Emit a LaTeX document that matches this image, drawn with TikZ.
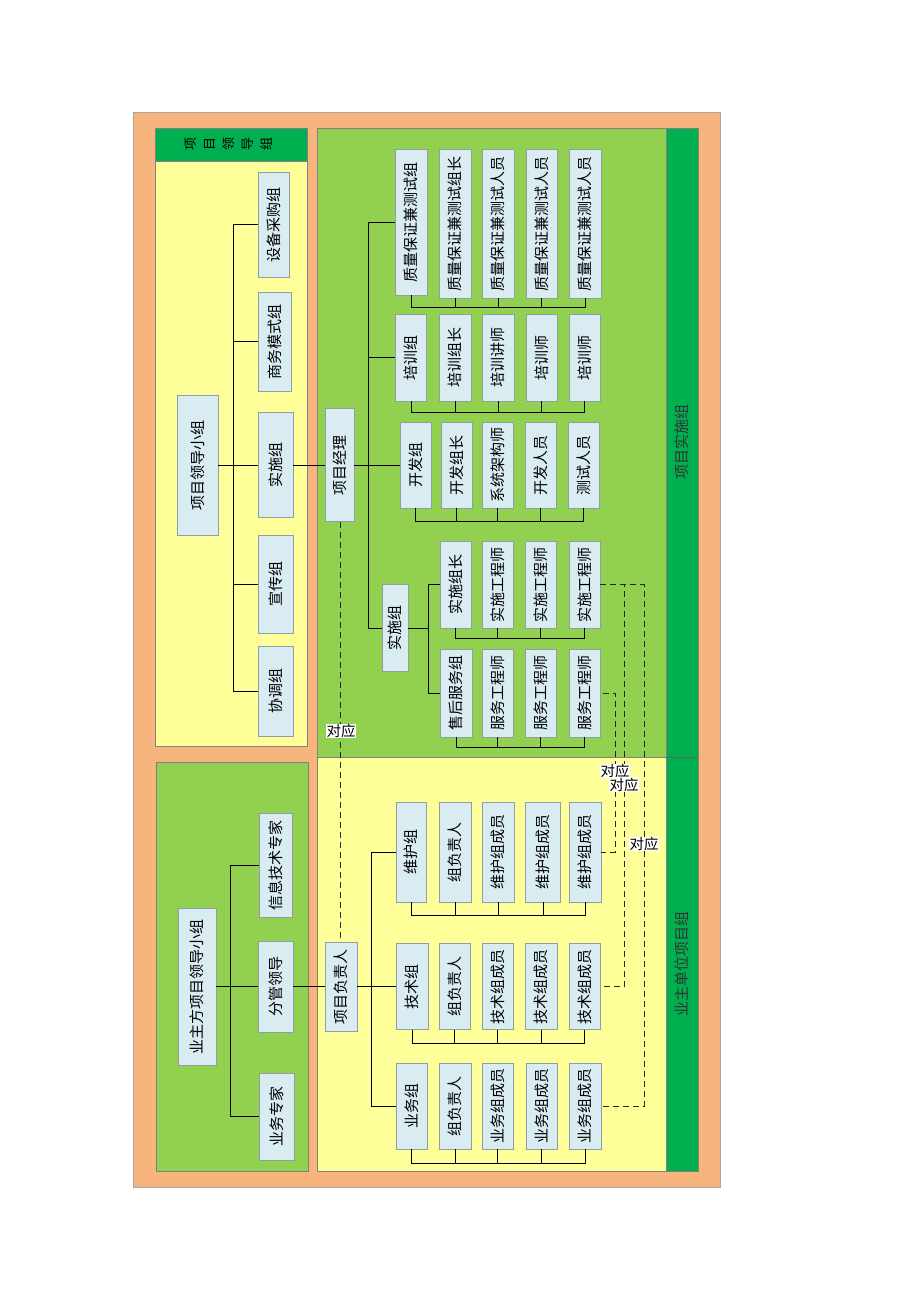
\documentclass[tikz,border=0pt]{standalone}
\usepackage{fontspec}
\newfontfamily\cjk{Noto Sans CJK SC}
\definecolor{orangebg}{HTML}{F7B47C}
\definecolor{greenpanel}{HTML}{92D050}
\definecolor{yellowpanel}{HTML}{FFFF99}
\definecolor{darkgreen}{HTML}{00B050}
\definecolor{boxfill}{HTML}{D8ECF1}
\definecolor{boxline}{HTML}{8E9EA4}
\begin{document}
\begin{tikzpicture}[x=1pt,y=-1pt,
  ob/.style={draw=boxline, line width=0.8pt, fill=boxfill, inner sep=0pt,
    font=\cjk\fontsize{15}{16}\selectfont, text=black},
  conn/.style={draw=black, line width=1pt},
  dconn/.style={draw=black!85, line width=1pt, dash pattern=on 6pt off 4pt},
  lab/.style={fill=white, inner sep=0.6pt, font=\cjk\fontsize{14.5}{15}\selectfont},
  striplab/.style={font=\cjk\fontsize{15}{16}\selectfont, text=black!80},
  panel/.style={draw=black!50, line width=0.6pt}
]
\useasboundingbox (0,0) rectangle (920,1302);
\fill[white] (0,0) rectangle (920,1302);

% backgrounds
\filldraw[fill=orangebg, draw=black!35, line width=0.6pt] (133,112) rectangle (720,1187);
\filldraw[panel, fill=yellowpanel] (155,128) rectangle (307,746);
\filldraw[panel, fill=darkgreen] (155,128) rectangle (307,161);
\filldraw[panel, fill=greenpanel] (156,762) rectangle (308,1171);
\filldraw[panel, fill=greenpanel] (317,128) rectangle (666,757);
\filldraw[panel, fill=yellowpanel] (317,757) rectangle (666,1171);
\filldraw[panel, fill=darkgreen] (666,128) rectangle (698,1171);
\draw[panel, black!60] (666,757) -- (698,757);

\node[font=\cjk\fontsize{13}{19}\selectfont] (hdr) at (229.5,144)
  {\rotatebox{90}{\begin{tabular}{@{}c@{}}项\\目\\领\\导\\组\end{tabular}}};
\node[striplab] (s1) at (682,442) {\rotatebox{90}{项目实施组}};
\node[striplab] (s2) at (682,964) {\rotatebox{90}{业主单位项目组}};

% ---------- top-left panel ----------
\node[ob, minimum width=41pt, minimum height=140pt] (lead) at (197.5,465) {\rotatebox{90}{项目领导小组}};
\node[ob, minimum width=35pt, minimum height=90pt] (xt) at (275.5,691) {\rotatebox{90}{协调组}};
\node[ob, minimum width=35pt, minimum height=98pt] (xc) at (275.5,584) {\rotatebox{90}{宣传组}};
\node[ob, minimum width=35pt, minimum height=105pt] (ss) at (275.5,465) {\rotatebox{90}{实施组}};
\node[ob, minimum width=33pt, minimum height=99pt] (sw) at (274.5,341.5) {\rotatebox{90}{商务模式组}};
\node[ob, minimum width=31pt, minimum height=105pt] (sb) at (273.5,224.5) {\rotatebox{90}{设备采购组}};
\coordinate (t1) at (233,0);

% ---------- project manager ----------
\node[ob, minimum width=29pt, minimum height=113pt] (pm) at (339.5,465) {\rotatebox{90}{项目经理}};
\coordinate (t2) at (368,0);

% QA row
\node[ob, minimum width=32pt, minimum height=146pt] (q1) at (411,222) {\rotatebox{90}{质量保证兼测试组}};
\node[ob, minimum width=32pt, minimum height=149pt] (q2) at (455,223.5) {\rotatebox{90}{质量保证兼测试组长}};
\node[ob, minimum width=32pt, minimum height=149pt] (q3) at (498,223.5) {\rotatebox{90}{质量保证兼测试人员}};
\node[ob, minimum width=31pt, minimum height=149pt] (q4) at (541.5,223.5) {\rotatebox{90}{质量保证兼测试人员}};
\node[ob, minimum width=32pt, minimum height=149pt] (q5) at (585,223.5) {\rotatebox{90}{质量保证兼测试人员}};
\coordinate (qbus) at (0,307);

% training row
\node[ob, minimum width=31pt, minimum height=87pt] (p1) at (411,357.5) {\rotatebox{90}{培训组}};
\node[ob, minimum width=32pt, minimum height=87pt] (p2) at (455,357.5) {\rotatebox{90}{培训组长}};
\node[ob, minimum width=32pt, minimum height=87pt] (p3) at (498,357.5) {\rotatebox{90}{培训讲师}};
\node[ob, minimum width=31pt, minimum height=87pt] (p4) at (541.5,357.5) {\rotatebox{90}{培训师}};
\node[ob, minimum width=31pt, minimum height=87pt] (p5) at (584.5,357.5) {\rotatebox{90}{培训师}};
\coordinate (pbus) at (0,412);

% development row
\node[ob, minimum width=31pt, minimum height=86pt] (k1) at (415.5,465) {\rotatebox{90}{开发组}};
\node[ob, minimum width=31pt, minimum height=86pt] (k2) at (456.5,465) {\rotatebox{90}{开发组长}};
\node[ob, minimum width=31pt, minimum height=86pt] (k3) at (497.5,465) {\rotatebox{90}{系统架构师}};
\node[ob, minimum width=31pt, minimum height=86pt] (k4) at (540.5,465) {\rotatebox{90}{开发人员}};
\node[ob, minimum width=31pt, minimum height=86pt] (k5) at (583.5,465) {\rotatebox{90}{测试人员}};
\coordinate (kbus) at (0,521);

% implementation group
\node[ob, minimum width=26pt, minimum height=87pt] (sr) at (395,628) {\rotatebox{90}{实施组}};
\coordinate (t3) at (428,0);
\node[ob, minimum width=31pt, minimum height=87pt] (z1) at (455.5,584.5) {\rotatebox{90}{实施组长}};
\node[ob, minimum width=31pt, minimum height=87pt] (z2) at (497.5,584.5) {\rotatebox{90}{实施工程师}};
\node[ob, minimum width=31pt, minimum height=87pt] (z3) at (540.5,584.5) {\rotatebox{90}{实施工程师}};
\node[ob, minimum width=31pt, minimum height=87pt] (z4) at (584.5,584.5) {\rotatebox{90}{实施工程师}};
\coordinate (zbus) at (0,638);
\node[ob, minimum width=32pt, minimum height=88pt] (h1) at (456,693) {\rotatebox{90}{售后服务组}};
\node[ob, minimum width=31pt, minimum height=88pt] (h2) at (497.5,693) {\rotatebox{90}{服务工程师}};
\node[ob, minimum width=31pt, minimum height=88pt] (h3) at (540.5,693) {\rotatebox{90}{服务工程师}};
\node[ob, minimum width=31pt, minimum height=88pt] (h4) at (584.5,693) {\rotatebox{90}{服务工程师}};
\coordinate (hbus) at (0,747);

% ---------- bottom-left panel ----------
\node[ob, minimum width=38pt, minimum height=157pt] (ol) at (197,986.5) {\rotatebox{90}{业主方项目领导小组}};
\node[ob, minimum width=33pt, minimum height=104pt] (xx) at (275.5,865) {\rotatebox{90}{信息技术专家}};
\node[ob, minimum width=35pt, minimum height=91pt] (fg) at (275.5,986.5) {\rotatebox{90}{分管领导}};
\node[ob, minimum width=35pt, minimum height=87pt] (yj) at (276.5,1116.5) {\rotatebox{90}{业务专家}};
\coordinate (t4) at (230,0);

% ---------- bottom-right panel ----------
\node[ob, minimum width=32pt, minimum height=89pt] (pr) at (341,986.5) {\rotatebox{90}{项目负责人}};
\coordinate (t5) at (371,0);

\node[ob, minimum width=30pt, minimum height=100pt] (w1) at (411,852) {\rotatebox{90}{维护组}};
\node[ob, minimum width=32pt, minimum height=100pt] (w2) at (455,852) {\rotatebox{90}{组负责人}};
\node[ob, minimum width=32pt, minimum height=100pt] (w3) at (498,852) {\rotatebox{90}{维护组成员}};
\node[ob, minimum width=35pt, minimum height=100pt] (w4) at (543,852) {\rotatebox{90}{维护组成员}};
\node[ob, minimum width=32pt, minimum height=100pt] (w5) at (585,852) {\rotatebox{90}{维护组成员}};
\coordinate (wbus) at (0,915);

\node[ob, minimum width=32pt, minimum height=86pt] (j1) at (412,986.5) {\rotatebox{90}{技术组}};
\node[ob, minimum width=31pt, minimum height=86pt] (j2) at (454.5,986.5) {\rotatebox{90}{组负责人}};
\node[ob, minimum width=31pt, minimum height=86pt] (j3) at (497.5,986.5) {\rotatebox{90}{技术组成员}};
\node[ob, minimum width=32pt, minimum height=86pt] (j4) at (541,986.5) {\rotatebox{90}{技术组成员}};
\node[ob, minimum width=31pt, minimum height=86pt] (j5) at (584.5,986.5) {\rotatebox{90}{技术组成员}};
\coordinate (jbus) at (0,1043);

\node[ob, minimum width=31pt, minimum height=86pt] (y1) at (411.5,1106) {\rotatebox{90}{业务组}};
\node[ob, minimum width=32pt, minimum height=86pt] (y2) at (455,1106) {\rotatebox{90}{组负责人}};
\node[ob, minimum width=31pt, minimum height=86pt] (y3) at (497.5,1106) {\rotatebox{90}{业务组成员}};
\node[ob, minimum width=31pt, minimum height=86pt] (y4) at (541.5,1106) {\rotatebox{90}{业务组成员}};
\node[ob, minimum width=32pt, minimum height=86pt] (y5) at (585,1106) {\rotatebox{90}{业务组成员}};
\coordinate (ybus) at (0,1163);

% ---------- connectors ----------
\draw[conn] (lead.east) -- (ss.west);
\draw[conn] (sb.west) -- (sb.west -| t1) -- (xt.west -| t1) -- (xt.west);
\draw[conn] (sw.west) -- (sw.west -| t1);
\draw[conn] (xc.west) -- (xc.west -| t1);
\draw[conn] (ss.east) -- (pm.west);

\draw[conn] (pm.east) -- (k1.west);
\draw[conn] (q1.west) -- (q1.west -| t2) -- (sr.west -| t2) -- (sr.west);
\draw[conn] (p1.west) -- (p1.west -| t2);

\draw[conn] (sr.east) -- (sr.east -| t3);
\draw[conn] (z1.west) -- (z1.west -| t3) -- (h1.west -| t3) -- (h1.west);

\draw[conn] (ol.east) -- (fg.west);
\draw[conn] (xx.west) -- (xx.west -| t4) -- (yj.west -| t4) -- (yj.west);
\draw[conn] (fg.east) -- (pr.west);
\draw[conn] (pr.east) -- (j1.west);
\draw[conn] (w1.west) -- (w1.west -| t5) -- (y1.west -| t5) -- (y1.west);

% buses
\draw[conn] (q1.south) -- (q1.south |- qbus) -- (q5.south |- qbus) -- (q5.south);
\foreach \b in {q2,q3,q4} \draw[conn] (\b.south) -- (\b.south |- qbus);
\draw[conn] (p1.south) -- (p1.south |- pbus) -- (p5.south |- pbus) -- (p5.south);
\foreach \b in {p2,p3,p4} \draw[conn] (\b.south) -- (\b.south |- pbus);
\draw[conn] (k1.south) -- (k1.south |- kbus) -- (k5.south |- kbus) -- (k5.south);
\foreach \b in {k2,k3,k4} \draw[conn] (\b.south) -- (\b.south |- kbus);
\draw[conn] (z1.south) -- (z1.south |- zbus) -- (z4.south |- zbus) -- (z4.south);
\foreach \b in {z2,z3} \draw[conn] (\b.south) -- (\b.south |- zbus);
\draw[conn] (h1.south) -- (h1.south |- hbus) -- (h4.south |- hbus) -- (h4.south);
\foreach \b in {h2,h3} \draw[conn] (\b.south) -- (\b.south |- hbus);
\draw[conn] (w1.south) -- (w1.south |- wbus) -- (w5.south |- wbus) -- (w5.south);
\foreach \b in {w2,w3,w4} \draw[conn] (\b.south) -- (\b.south |- wbus);
\draw[conn] (j1.south) -- (j1.south |- jbus) -- (j5.south |- jbus) -- (j5.south);
\foreach \b in {j2,j3,j4} \draw[conn] (\b.south) -- (\b.south |- jbus);
\draw[conn] (y1.south) -- (y1.south |- ybus) -- (y5.south |- ybus) -- (y5.south);
\foreach \b in {y2,y3,y4} \draw[conn] (\b.south) -- (\b.south |- ybus);

% dashed correspondence lines
\coordinate (d1x) at (340,0);
\coordinate (d2x) at (644,0);
\coordinate (d3x) at (624,0);
\coordinate (d4x) at (615,0);
\draw[dconn] (pm.south -| d1x) -- (pr.north -| d1x);
\draw[dconn] (z4.east) -- (z4.east -| d2x) -- (y5.east -| d2x) -- (y5.east);
\draw[dconn] (z4.east) -- (z4.east -| d3x) -- (j5.east -| d3x) -- (j5.east);
\draw[dconn] ([xshift=3pt]h4.east) -- (h4.east -| d4x) -- (w5.east -| d4x) -- (w5.east);

\node[lab] (l1) at (341,731) {对应};
\node[lab] (l4) at (615,771) {对应};
\node[lab] (l3) at (624,784.5) {对应};
\node[lab] (l2) at (644,844) {对应};
\end{tikzpicture}
\end{document}
